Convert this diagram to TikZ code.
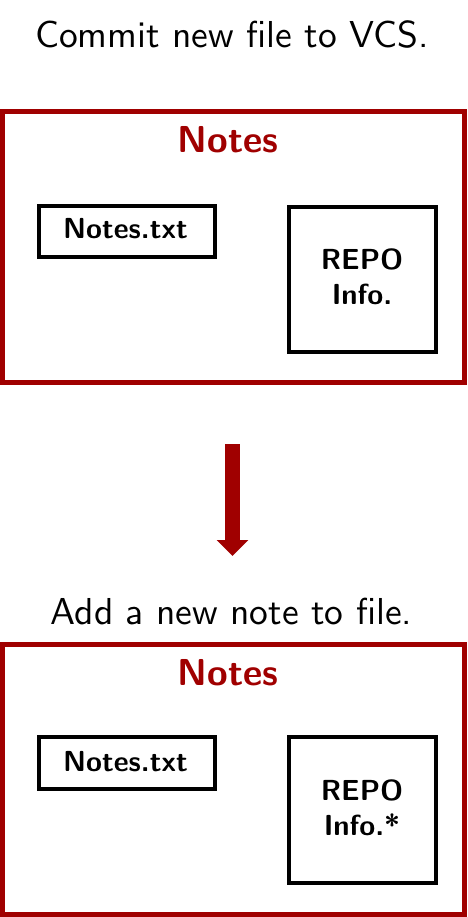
\documentclass[tikz,border=0pt]{standalone}
\usetikzlibrary{arrows.meta}
\definecolor{notered}{RGB}{160,0,0}
% text set at the 10pt design size, then enlarged
\newcommand{\bigtext}[1]{\scalebox{3.75}{\fontsize{10}{12}\selectfont #1}}
\newcommand{\midtext}[1]{\scalebox{2.9}{\fontsize{10}{12}\selectfont #1}}
\begin{document}
\begin{tikzpicture}[x=1pt,y=-1pt,
  caption/.style={anchor=base,inner sep=0pt,font=\sffamily},
  boxtitle/.style={anchor=base,inner sep=0pt,text=notered,font=\sffamily\bfseries},
  boxlabel/.style={anchor=base,inner sep=0pt,font=\sffamily\bfseries},
  folder/.style={draw=notered,line width=5pt,inner sep=0pt,minimum width=462pt},
  filebox/.style={draw=black,line width=4pt,inner sep=0pt},
  flow/.style={draw=notered,line width=15pt,-{Triangle[width=31pt,length=16pt]}}
]
\useasboundingbox (0,0) rectangle (467,917);

% first state
\node[caption] (cap1) at (232,48) {\bigtext{Commit new file to VCS.}};
\node[folder,minimum height=271pt] (box1) at (233.5,247) {};
\node[boxtitle] (title1) at (228,153) {\bigtext{Notes}};
\node[filebox,minimum width=176pt,minimum height=50pt] (txt1) at (126.5,231.5) {};
\node[boxlabel] (txtlbl1) at (125.5,238) {\midtext{Notes.txt}};
\node[filebox,minimum width=147pt,minimum height=145pt] (repo1) at (362.5,279.5) {};
\node[boxlabel] (repolbl1a) at (362,269) {\midtext{REPO}};
\node[boxlabel] (repolbl1b) at (362,304) {\midtext{Info.}};

% transition
\coordinate (flowstart) at (232.5,444);
\coordinate (flowend) at (232.5,556);
\draw[flow] (flowstart) -- (flowend);

% second state
\node[caption] (cap2) at (231.5,624) {\bigtext{Add a new note to file.}};
\node[folder,minimum height=270pt] (box2) at (233.5,779.5) {};
\node[boxtitle] (title2) at (228,685) {\bigtext{Notes}};
\node[filebox,minimum width=176pt,minimum height=52pt] (txt2) at (126.5,763) {};
\node[boxlabel] (txtlbl2) at (125.5,771) {\midtext{Notes.txt}};
\node[filebox,minimum width=147pt,minimum height=146pt] (repo2) at (362.5,810) {};
\node[boxlabel] (repolbl2a) at (362,800) {\midtext{REPO}};
\node[boxlabel] (repolbl2b) at (362,835) {\midtext{Info.*}};
\end{tikzpicture}
\end{document}
